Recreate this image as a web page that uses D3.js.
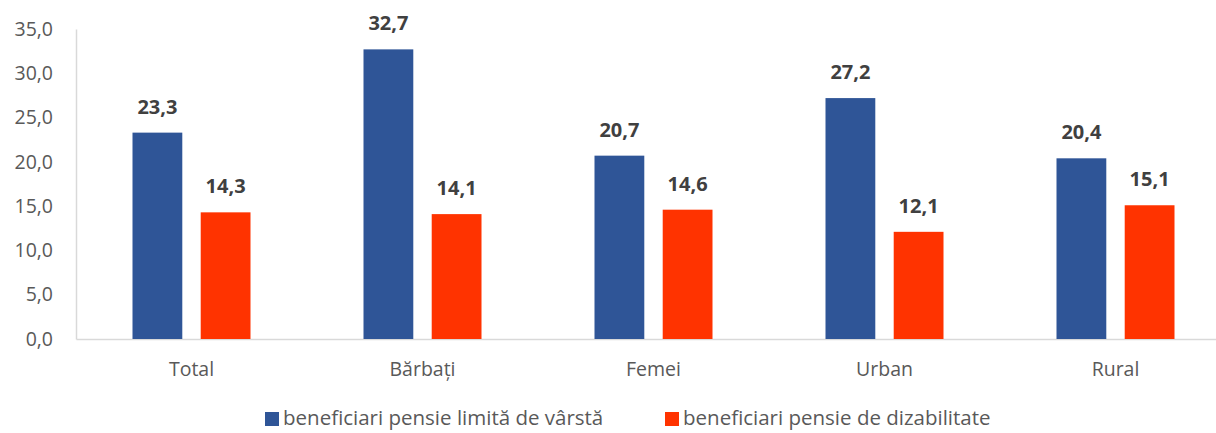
<!DOCTYPE html>
<html>
<head>
<meta charset="utf-8">
<script src="https://cdn.jsdelivr.net/npm/d3@7"></script>
<style>
  body { margin: 0; background: #fff; }
  text { font-family: "Open Sans", sans-serif; }
</style>
</head>
<body>
<div id="app"></div>
<script>
const categories = ['Total', 'Bărbați', 'Femei', 'Urban', 'Rural'];
const seriesNames = ['beneficiari pensie limită de vârstă', 'beneficiari pensie de dizabilitate'];
const varsta = [23.3, 32.7, 20.7, 27.2, 20.4];
const dizabilitate = [14.3, 14.1, 14.6, 12.1, 15.1];
const yTicks = [0, 5, 10, 15, 20, 25, 30, 35];
const colors = ['#2f5597', '#ff3300'];

const width = 1216, height = 433;
const fmt = v => d3.format('.1f')(v).replace('.', ',');

const svg = d3.select('#app').append('svg').attr('width', width).attr('height', height);

const x = d3.scaleBand().domain(categories).range([76, 1231]);
const y = d3.scaleLinear().domain([0, 35]).range([339, 29]);
const inner = d3.scaleBand().domain([0, 1]).range([-59, 59]).paddingInner(0.27);

// axes
const axisY = svg.append('g').attr('transform', 'translate(76,0)')
  .call(d3.axisLeft(y).tickValues(yTicks).tickFormat(fmt).tickSize(0).tickPadding(23));
axisY.select('.domain').attr('stroke', '#d9d9d9').attr('stroke-width', 1.5);
axisY.selectAll('text').attr('font-size', 19.5).attr('fill', '#595959');

const axisX = svg.append('g').attr('transform', 'translate(0,339)')
  .call(d3.axisBottom(x).tickSize(0).tickPadding(23));
axisX.select('.domain').attr('stroke', '#d9d9d9').attr('stroke-width', 1.5);
axisX.selectAll('text').attr('font-size', 19.5).attr('fill', '#595959');

// bars
[varsta, dizabilitate].forEach((vals, s) => {
  const g = svg.append('g');
  g.selectAll('rect').data(vals).join('rect')
    .attr('x', (d, i) => x(categories[i]) + x.bandwidth() / 2 + inner(s))
    .attr('width', inner.bandwidth())
    .attr('y', d => y(d))
    .attr('height', d => y(0) - y(d))
    .attr('fill', colors[s]);
  g.selectAll('text').data(vals).join('text')
    .attr('x', (d, i) => x(categories[i]) + x.bandwidth() / 2 + inner(s) + inner.bandwidth() / 2)
    .attr('y', d => y(d) - 19)
    .attr('text-anchor', 'middle')
    .attr('font-size', 20)
    .attr('font-weight', 'bold')
    .attr('fill', '#404040')
    .text(fmt);
});

// legend
const legendX = [265, 665];
seriesNames.forEach((name, s) => {
  svg.append('rect').attr('x', legendX[s]).attr('y', 412).attr('width', 14).attr('height', 14).attr('fill', colors[s]);
  svg.append('text').attr('x', legendX[s] + 18).attr('y', 425)
    .attr('font-size', 20.5).attr('fill', '#595959').text(name);
});
</script>
</body>
</html>
